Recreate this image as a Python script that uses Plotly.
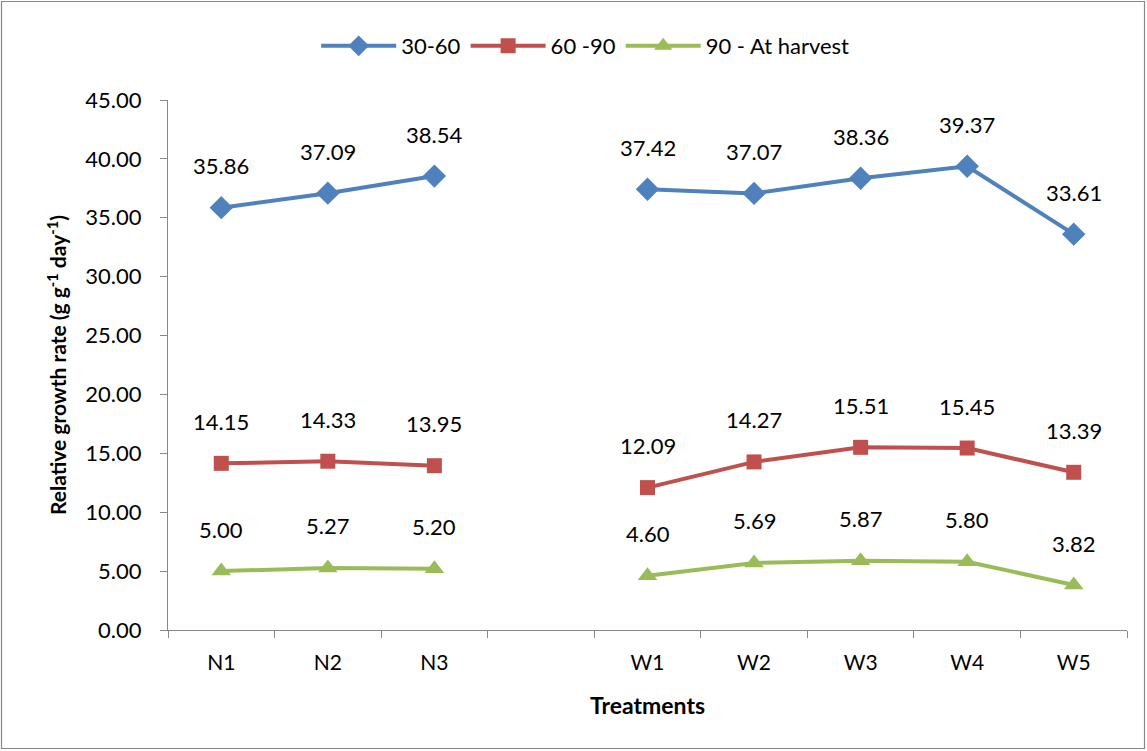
import plotly.graph_objects as go

categories = ["N1", "N2", "N3", " ", "W1", "W2", "W3", "W4", "W5"]
s1_name = "30-60"
s1 = [35.86, 37.09, 38.54, None, 37.42, 37.07, 38.36, 39.37, 33.61]
s2_name = "60 -90"
s2 = [14.15, 14.33, 13.95, None, 12.09, 14.27, 15.51, 15.45, 13.39]
s3_name = "90 - At harvest"
s3 = [5.00, 5.27, 5.20, None, 4.60, 5.69, 5.87, 5.80, 3.82]
yticks = [0, 5, 10, 15, 20, 25, 30, 35, 40, 45]

FONT = "Lato, Liberation Sans, sans-serif"
series = [
    (s1_name, s1, "#4F81BD", "diamond", 18),
    (s2_name, s2, "#C0504D", "square", 15),
    (s3_name, s3, "#9BBB59", "triangle-up", 17),
]

fig = go.Figure()
annotations = []
for name, vals, color, sym, size in series:
    fig.add_trace(go.Scatter(
        x=categories, y=vals, name=name, mode="lines+markers",
        line=dict(color=color, width=4), connectgaps=False,
        marker=dict(symbol=sym, size=size, color=color),
    ))
    for c, v in zip(categories, vals):
        if v is None:
            continue
        annotations.append(dict(
            x=c, y=v, xref="x", yref="y", text=f"{v:.2f}", showarrow=False,
            yshift=42, font=dict(family=FONT, size=22, color="#000000"),
        ))

L, R, T, B = 168, 20, 100, 121
W, H = 1147, 751
pw, ph = W - L - R, H - T - B
fig.add_shape(type="rect", xref="paper", yref="paper",
              x0=-(L - 1.5) / pw, x1=1 + (R - 2.5) / pw,
              y0=-(B - 2.5) / ph, y1=1 + (T - 1.5) / ph,
              line=dict(color="#888888", width=1.2), layer="below")

fig.update_layout(
    width=W, height=H,
    margin=dict(l=L, r=R, t=T, b=B),
    paper_bgcolor="white", plot_bgcolor="white",
    font=dict(family=FONT, size=21, color="#000000"),
    showlegend=True,
    legend=dict(orientation="h", x=0.435, xanchor="center", y=1 + 54 / ph, yanchor="middle",
                font=dict(family=FONT, size=22), itemwidth=75, tracegroupgap=0),
    annotations=annotations,
    xaxis=dict(
        type="category", categoryorder="array", categoryarray=categories,
        range=[-0.5, 8.5], tickson="boundaries", ticks="outside", ticklen=7,
        tickcolor="#888888", showline=True, linecolor="#888888", linewidth=1.2,
        showgrid=False, zeroline=False, tickfont=dict(family=FONT, size=21),
        ticklabelstandoff=14,
        title=dict(text="<b>Treatments</b>", font=dict(family=FONT, size=23), standoff=24),
    ),
    yaxis=dict(
        range=[0, 45], tickvals=yticks, ticktext=[f"{t:.2f}" for t in yticks],
        ticks="outside", ticklen=7, tickcolor="#888888", showline=True,
        linecolor="#888888", linewidth=1.2, showgrid=False, zeroline=False,
        tickfont=dict(family=FONT, size=22), ticklabelstandoff=14,
        title=dict(text="<b>Relative growth rate (g g<sup>-1</sup> day<sup>-1</sup>)</b>",
                   font=dict(family=FONT, size=21), standoff=12),
    ),
)

fig.write_html("out.html", config={"displayModeBar": False},
               post_script="document.body.style.margin='0';")
